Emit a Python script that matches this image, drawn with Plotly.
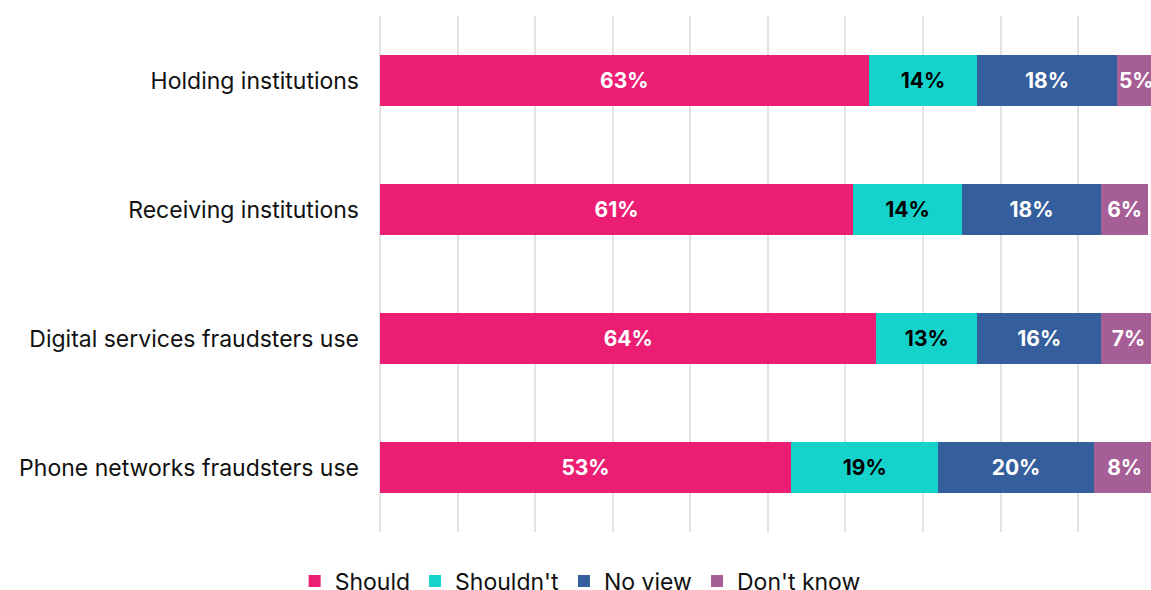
import plotly.graph_objects as go

categories = [
    "Holding institutions",
    "Receiving institutions",
    "Digital services fraudsters use",
    "Phone networks fraudsters use",
]
should = [63, 61, 64, 53]
shouldnt = [14, 14, 13, 19]
no_view = [18, 18, 16, 20]
dont_know = [5, 6, 7, 8]

series = [
    ("Should", should, "#EB1E74", "white"),
    ("Shouldn't", shouldnt, "#15D2CA", "black"),
    ("No view", no_view, "#355E9C", "white"),
    ("Don't know", dont_know, "#A65E96", "white"),
]

fig = go.Figure()
for name, vals, color, txt in series:
    fig.add_trace(go.Bar(
        name=name,
        y=categories,
        x=vals,
        orientation="h",
        marker=dict(color=color, line=dict(width=0)),
        texttemplate="<b>%{x}%</b>",
        textposition="inside",
        insidetextanchor="middle",
        textangle=0,
        textfont=dict(color=txt, size=21, family="Inter"),
        cliponaxis=True,
    ))

fig.update_layout(
    width=1151,
    height=590,
    barmode="stack",
    bargap=0.6,
    plot_bgcolor="white",
    paper_bgcolor="white",
    font=dict(family="Inter", size=20, color="#111111"),
    margin=dict(l=380, r=0, t=16, b=58),
    uniformtext=dict(minsize=21, mode="show"),
    legend=dict(
        orientation="h",
        xref="container",
        yref="container",
        x=0.256,
        xanchor="left",
        y=0.015,
        yanchor="middle",
        font=dict(size=23, family="Inter", color="#111111"),
        traceorder="normal",
    ),
)
fig.update_xaxes(
    range=[0, 99.4],
    dtick=10,
    showgrid=True,
    gridcolor="#e2e2e2",
    gridwidth=2,
    zeroline=True,
    zerolinecolor="#e2e2e2",
    zerolinewidth=2,
    showticklabels=False,
    showline=False,
)
fig.update_yaxes(
    categoryorder="array",
    categoryarray=categories,
    autorange="reversed",
    showgrid=False,
    ticks="",
    ticklabelstandoff=20,
    tickfont=dict(size=23, family="Inter", color="#111111"),
)

fig.write_html("out.html")
